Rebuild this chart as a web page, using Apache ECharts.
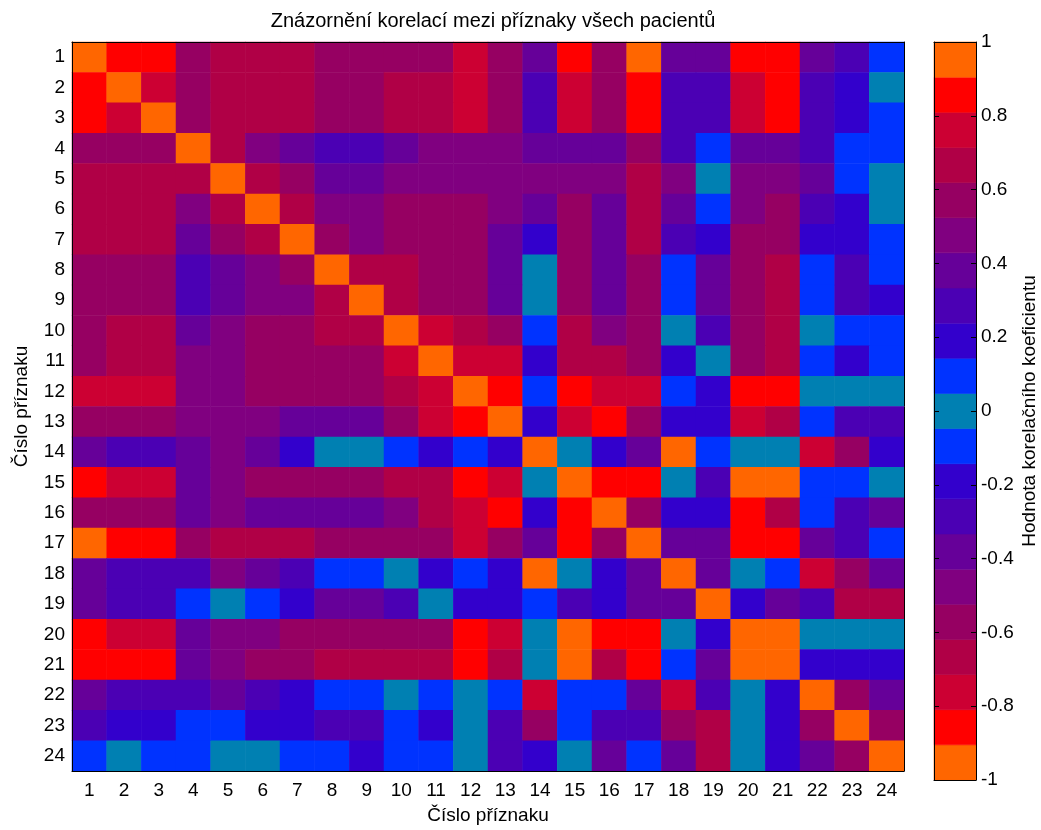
<!DOCTYPE html>
<html>
<head>
<meta charset="utf-8">
<title>Korelace příznaků</title>
<script src="https://cdn.jsdelivr.net/npm/echarts@6/dist/echarts.min.js"></script>
<style>
  html, body { margin: 0; padding: 0; background: #ffffff; }
  #chart { width: 1041px; height: 830px; }
</style>
</head>
<body>
<div id="chart"></div>
<script>
// Feature numbers shown on both axes
const featureLabels = ['1','2','3','4','5','6','7','8','9','10','11','12',
                       '13','14','15','16','17','18','19','20','21','22','23','24'];

// Correlation coefficients between features (row i, column j)
const corr = [
  [1.00,0.86,0.86,0.57,0.67,0.67,0.67,0.57,0.57,0.57,0.57,0.76,0.57,0.38,0.86,0.57,0.93,0.38,0.38,0.86,0.86,0.38,0.29,0.10],
  [0.86,1.00,0.76,0.57,0.67,0.67,0.67,0.57,0.57,0.67,0.67,0.76,0.57,0.29,0.76,0.57,0.86,0.29,0.29,0.76,0.86,0.29,0.19,0.02],
  [0.86,0.76,1.00,0.57,0.67,0.67,0.67,0.57,0.57,0.67,0.67,0.76,0.57,0.29,0.76,0.57,0.86,0.29,0.29,0.76,0.86,0.29,0.19,0.10],
  [0.57,0.57,0.57,1.00,0.67,0.48,0.38,0.29,0.29,0.38,0.48,0.48,0.48,0.38,0.38,0.38,0.57,0.29,0.10,0.38,0.38,0.29,0.10,0.10],
  [0.67,0.67,0.67,0.67,1.00,0.67,0.57,0.38,0.38,0.48,0.48,0.48,0.48,0.48,0.48,0.48,0.67,0.48,0.02,0.48,0.48,0.38,0.10,0.02],
  [0.67,0.67,0.67,0.48,0.67,1.00,0.67,0.48,0.48,0.57,0.57,0.57,0.48,0.38,0.57,0.38,0.67,0.38,0.10,0.48,0.57,0.29,0.19,0.02],
  [0.67,0.67,0.67,0.38,0.57,0.67,1.00,0.57,0.48,0.57,0.57,0.57,0.38,0.19,0.57,0.38,0.67,0.29,0.19,0.57,0.57,0.19,0.19,0.10],
  [0.57,0.57,0.57,0.29,0.38,0.48,0.57,1.00,0.67,0.67,0.57,0.57,0.38,0.02,0.57,0.38,0.57,0.10,0.38,0.57,0.67,0.10,0.29,0.10],
  [0.57,0.57,0.57,0.29,0.38,0.48,0.48,0.67,1.00,0.67,0.57,0.57,0.38,0.02,0.57,0.38,0.57,0.10,0.38,0.57,0.67,0.10,0.29,0.19],
  [0.57,0.67,0.67,0.38,0.48,0.57,0.57,0.67,0.67,1.00,0.76,0.67,0.57,0.10,0.67,0.48,0.57,0.02,0.29,0.57,0.67,0.02,0.10,0.10],
  [0.57,0.67,0.67,0.48,0.48,0.57,0.57,0.57,0.57,0.76,1.00,0.76,0.76,0.19,0.67,0.67,0.57,0.19,0.02,0.57,0.67,0.10,0.19,0.10],
  [0.76,0.76,0.76,0.48,0.48,0.57,0.57,0.57,0.57,0.67,0.76,1.00,0.86,0.10,0.86,0.76,0.76,0.10,0.19,0.86,0.86,0.02,0.02,0.02],
  [0.57,0.57,0.57,0.48,0.48,0.48,0.38,0.38,0.38,0.57,0.76,0.86,1.00,0.19,0.76,0.86,0.57,0.19,0.19,0.76,0.67,0.10,0.29,0.29],
  [0.38,0.29,0.29,0.38,0.48,0.38,0.19,0.02,0.02,0.10,0.19,0.10,0.19,1.00,0.02,0.19,0.38,0.93,0.10,0.02,0.02,0.76,0.57,0.19],
  [0.86,0.76,0.76,0.38,0.48,0.57,0.57,0.57,0.57,0.67,0.67,0.86,0.76,0.02,1.00,0.86,0.86,0.02,0.29,0.93,0.93,0.10,0.10,0.02],
  [0.57,0.57,0.57,0.38,0.48,0.38,0.38,0.38,0.38,0.48,0.67,0.76,0.86,0.19,0.86,1.00,0.57,0.19,0.19,0.86,0.67,0.10,0.29,0.38],
  [0.93,0.86,0.86,0.57,0.67,0.67,0.67,0.57,0.57,0.57,0.57,0.76,0.57,0.38,0.86,0.57,1.00,0.38,0.38,0.86,0.86,0.38,0.29,0.10],
  [0.38,0.29,0.29,0.29,0.48,0.38,0.29,0.10,0.10,0.02,0.19,0.10,0.19,0.93,0.02,0.19,0.38,1.00,0.38,0.02,0.10,0.76,0.57,0.38],
  [0.38,0.29,0.29,0.10,0.02,0.10,0.19,0.38,0.38,0.29,0.02,0.19,0.19,0.10,0.29,0.19,0.38,0.38,1.00,0.19,0.38,0.29,0.67,0.67],
  [0.86,0.76,0.76,0.38,0.48,0.48,0.57,0.57,0.57,0.57,0.57,0.86,0.76,0.02,0.93,0.86,0.86,0.02,0.19,1.00,0.93,0.02,0.02,0.02],
  [0.86,0.86,0.86,0.38,0.48,0.57,0.57,0.67,0.67,0.67,0.67,0.86,0.67,0.02,0.93,0.67,0.86,0.10,0.38,0.93,1.00,0.19,0.19,0.19],
  [0.38,0.29,0.29,0.29,0.38,0.29,0.19,0.10,0.10,0.02,0.10,0.02,0.10,0.76,0.10,0.10,0.38,0.76,0.29,0.02,0.19,1.00,0.57,0.38],
  [0.29,0.19,0.19,0.10,0.10,0.19,0.19,0.29,0.29,0.10,0.19,0.02,0.29,0.57,0.10,0.29,0.29,0.57,0.67,0.02,0.19,0.57,1.00,0.57],
  [0.10,0.02,0.10,0.10,0.02,0.02,0.10,0.10,0.19,0.10,0.10,0.02,0.29,0.19,0.02,0.38,0.10,0.38,0.67,0.02,0.19,0.38,0.57,1.00]
];

// Symmetric 21-step colormap, from -1 (first) to +1 (last)
const levelColors = ['#FF6600','#FF0000','#CC0033','#B00046','#960062','#800080','#660099',
                     '#4B00B4','#3300CC','#0033FF','#0080B2','#0033FF','#3300CC','#4B00B4',
                     '#660099','#800080','#960062','#B00046','#CC0033','#FF0000','#FF6600'];

const chartTitle = 'Znázornění korelací mezi příznaky všech pacientů';
const axisTitle = 'Číslo příznaku';
const colorbarTitle = 'Hodnota korelačního koeficientu';

const FONT = "'Liberation Sans', Arial, sans-serif";

// Equal-width bins spanning [-1, 1]
const nLevels = levelColors.length;
const edges = levelColors.map((_, i) => -1 + 2 * i / nLevels).concat([1]);
const pieces = levelColors.map((color, i) => (
  i === nLevels - 1
    ? { gte: edges[i], lte: edges[i + 1] + 1e-9, color: color }
    : { gte: edges[i], lt: edges[i + 1], color: color }
));

const cells = [];
corr.forEach((row, r) => row.forEach((v, c) => cells.push([c, r, v])));

const colorbarData = levelColors.map((_, i) => [0, edges[i], edges[i + 1]]);

const black = '#000000';
const tickStyle = { inside: true, length: 5, alignWithLabel: true, lineStyle: { color: black, width: 1 } };
const valueTick = { inside: true, length: 5, lineStyle: { color: black, width: 1 } };
const lineStyle = { show: true, onZero: false, lineStyle: { color: black, width: 1 } };
const labelStyle = { color: black, fontSize: 19, fontFamily: FONT };
const nameStyle = { color: black, fontSize: 19, fontFamily: FONT };

// Axes are drawn on their own layer so frames and inward ticks stay above the cells
const AXIS_LAYER = 1;

const chart = echarts.init(document.getElementById('chart'), null, { renderer: 'canvas' });

chart.setOption({
  backgroundColor: '#ffffff',
  animation: false,
  textStyle: { fontFamily: FONT },
  title: {
    text: chartTitle,
    left: 488,
    top: 6,
    textAlign: 'center',
    textStyle: { fontSize: 20, fontWeight: 'normal', color: black, fontFamily: FONT }
  },
  grid: [
    { left: 72, top: 42, width: 832, height: 736 },
    { left: 934, top: 42, width: 42, height: 738 }
  ],
  xAxis: [
    {
      type: 'category', gridIndex: 0, data: featureLabels, position: 'bottom', zlevel: AXIS_LAYER,
      axisLine: lineStyle, axisTick: tickStyle,
      axisLabel: Object.assign({ margin: 10 }, labelStyle),
      splitLine: { show: false },
      name: axisTitle, nameLocation: 'middle', nameGap: 35, nameTextStyle: nameStyle
    },
    {
      type: 'category', gridIndex: 0, data: featureLabels, position: 'top', zlevel: AXIS_LAYER,
      axisLine: lineStyle, axisTick: tickStyle, axisLabel: { show: false },
      splitLine: { show: false }
    },
    { type: 'value', gridIndex: 1, min: 0, max: 1, position: 'bottom', zlevel: AXIS_LAYER,
      axisLine: lineStyle, axisTick: { show: false }, axisLabel: { show: false }, splitLine: { show: false } },
    { type: 'value', gridIndex: 1, min: 0, max: 1, position: 'top', zlevel: AXIS_LAYER,
      axisLine: lineStyle, axisTick: { show: false }, axisLabel: { show: false }, splitLine: { show: false } }
  ],
  yAxis: [
    {
      type: 'category', gridIndex: 0, data: featureLabels, inverse: true, position: 'left', zlevel: AXIS_LAYER,
      axisLine: lineStyle, axisTick: tickStyle,
      axisLabel: Object.assign({ margin: 7 }, labelStyle),
      splitLine: { show: false },
      name: axisTitle, nameLocation: 'middle', nameRotate: 90, nameGap: 41, nameTextStyle: nameStyle
    },
    {
      type: 'category', gridIndex: 0, data: featureLabels, inverse: true, position: 'right', zlevel: AXIS_LAYER,
      axisLine: lineStyle, axisTick: tickStyle, axisLabel: { show: false },
      splitLine: { show: false }
    },
    {
      type: 'value', gridIndex: 1, min: -1, max: 1, interval: 0.2, position: 'right', zlevel: AXIS_LAYER,
      axisLine: lineStyle, axisTick: valueTick,
      axisLabel: Object.assign({ margin: 5 }, labelStyle),
      splitLine: { show: false },
      name: colorbarTitle, nameLocation: 'middle', nameRotate: 90, nameGap: 44, nameTextStyle: nameStyle
    },
    {
      type: 'value', gridIndex: 1, min: -1, max: 1, interval: 0.2, position: 'left', zlevel: AXIS_LAYER,
      axisLine: lineStyle, axisTick: valueTick, axisLabel: { show: false },
      splitLine: { show: false }
    }
  ],
  visualMap: {
    type: 'piecewise', show: false, seriesIndex: 0, dimension: 2, pieces: pieces
  },
  series: [
    {
      type: 'heatmap', xAxisIndex: 0, yAxisIndex: 0, data: cells,
      itemStyle: { borderWidth: 0 },
      emphasis: { disabled: true }
    },
    {
      type: 'custom', xAxisIndex: 2, yAxisIndex: 2, data: colorbarData,
      encode: { x: 0, y: [1, 2] },
      silent: true,
      renderItem: function (params, api) {
        const top = api.coord([0, api.value(2)]);
        const bottom = api.coord([1, api.value(1)]);
        const color = levelColors[params.dataIndex];
        return {
          type: 'rect',
          shape: { x: top[0], y: top[1], width: bottom[0] - top[0], height: bottom[1] - top[1] },
          style: { fill: color, stroke: color, lineWidth: 0.6 }
        };
      }
    }
  ]
});
</script>
</body>
</html>
